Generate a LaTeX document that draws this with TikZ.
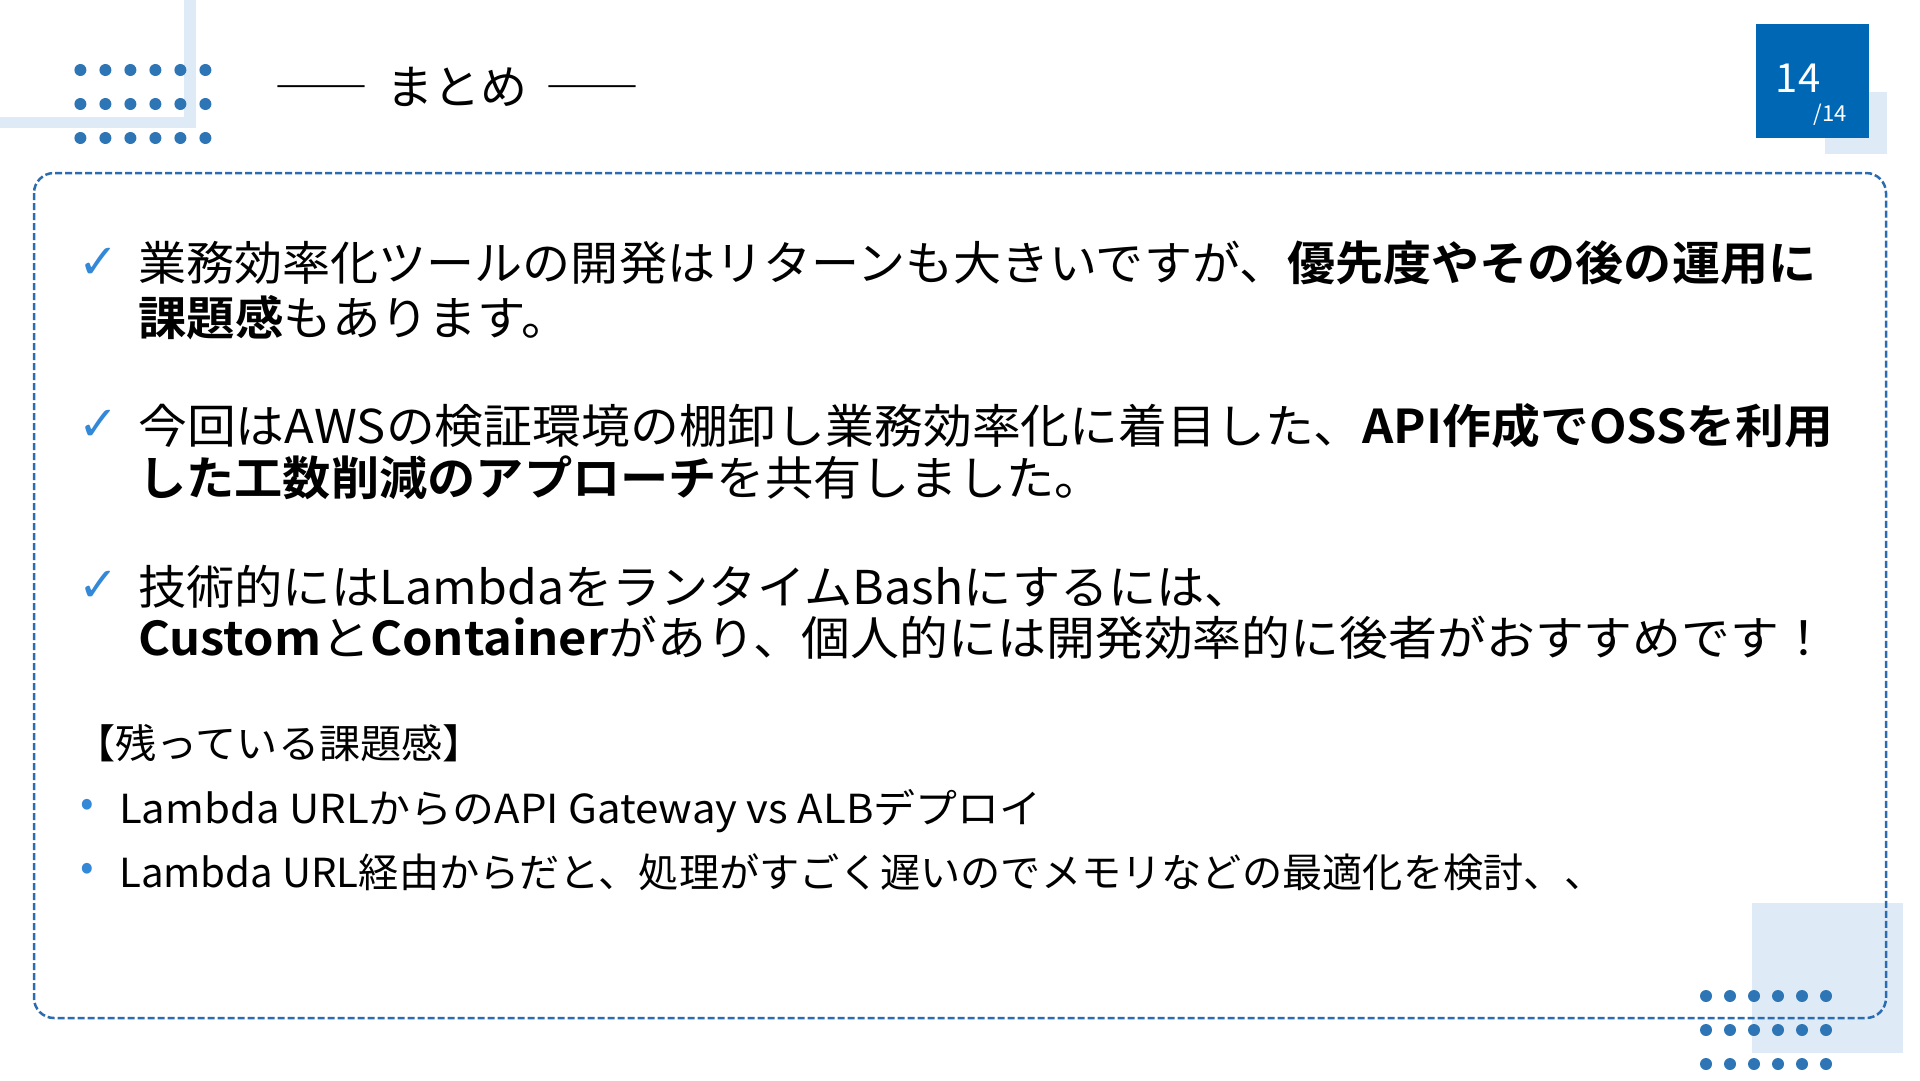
\documentclass[tikz,border=0pt]{standalone}
\usepackage{graphicx}
\usepackage{fontspec}
\setmainfont{Noto Sans CJK JP}[BoldFont={Noto Sans CJK JP Bold}]
\newfontfamily\symfont{DejaVu Sans}
\definecolor{lightbg}{HTML}{DEEBF7}
\definecolor{dotblue}{HTML}{2E75B6}
\definecolor{boxblue}{HTML}{0067B5}
\definecolor{borderblue}{HTML}{2B6CB0}
\definecolor{checkblue}{HTML}{3388D8}
\newcommand{\wideto}[2]{\resizebox{#1}{\height}{#2}}
\newcommand{\widen}[2]{\scalebox{#1}[1]{#2}}
\begin{document}
\begin{tikzpicture}[x=1pt,y=-1pt,
  maintext/.style={anchor=base west, inner sep=0pt, font=\fontsize{46.6}{50}\selectfont},
  subtext/.style={anchor=base west, inner sep=0pt, font=\fontsize{40}{44}\selectfont},
  checkmark/.style={inner sep=0pt, text=checkblue, font=\symfont\bfseries\fontsize{48}{48}\selectfont},
  bulletmark/.style={inner sep=0pt, text=checkblue, font=\fontsize{40}{40}\selectfont},
  dotstyle/.style={fill=dotblue, draw=none},
  lightfill/.style={fill=lightbg, draw=none},
]
\useasboundingbox (0,0) rectangle (1920,1080);
\fill[white] (0,0) rectangle (1920,1080);

% top-left decoration
\fill[lightfill] (184,0) rectangle (196,128);
\fill[lightfill] (0,117) rectangle (196,128);
\foreach \i in {0,...,5}
  \foreach \j in {0,1,2}
    \fill[dotstyle] (80.4+25*\i,70+34*\j) circle[radius=6];

% title
\node[anchor=base, inner sep=0pt, font=\fontsize{47}{47}\selectfont] (title) at (457,104)
  {――\hspace{18pt}まとめ\hspace{18pt}――};

% page number
\fill[lightfill] (1825,92) rectangle (1887,154);
\fill[fill=boxblue] (1756,24) rectangle (1869,138);
\node[inner sep=0pt, text=white, font=\fontsize{40}{40}\selectfont] (pnum) at (1798,78) {14};
\node[inner sep=0pt, text=white, font=\fontsize{22}{22}\selectfont] (ptot) at (1830,115) {/14};

% bottom-right decoration and frame
\fill[lightfill] (1752,903) rectangle (1903,1053);
\draw[borderblue, line width=2.5pt, dash pattern=on 7pt off 3pt, rounded corners=20pt]
  (34,173) rectangle (1886,1018);
\foreach \i in {0,...,5}
  \foreach \j in {0,1,2}
    \fill[dotstyle] (1706+24*\i,996+34*\j) circle[radius=6];

% checked items
\node[checkmark] (c1) at (99,263) {✓};
\node[maintext] (t1a) at (138,280.7) {\wideto{1678pt}{業務効率化ツールの開発はリターンも大きいですが、\textbf{優先度やその後の運用に}}};
\node[maintext] (t1b) at (138,335.7) {\widen{1.04}{\textbf{課題感}もあります。}};

\node[checkmark] (c2) at (99,425) {✓};
\node[maintext] (t2a) at (138,443.7) {\wideto{1695pt}{今回はAWSの検証環境の棚卸し業務効率化に着目した、\textbf{API作成でOSSを利用}}};
\node[maintext] (t2b) at (138,495.7) {\widen{1.035}{\textbf{した工数削減のアプローチ}を共有しました。}};

\node[checkmark] (c3) at (99,586) {✓};
\node[maintext] (t3a) at (138,604.7) {\widen{1.035}{技術的にはLambdaをランタイムBashにするには、}};
\node[maintext] (t3b) at (138,655.7) {\wideto{1690pt}{\textbf{Custom}と\textbf{Container}があり、個人的には開発効率的に後者がおすすめです！}};

% remaining issues
\node[subtext] (rhead) at (74,758) {\widen{1.03}{【残っている課題感】}};
\node[bulletmark] (b1) at (87,808) {•};
\node[subtext] (r1) at (119,823) {\wideto{922pt}{Lambda URLからのAPI Gateway vs ALBデプロイ}};
\node[bulletmark] (b2) at (87,872) {•};
\node[subtext] (r2) at (119,887) {\wideto{1485pt}{Lambda URL経由からだと、処理がすごく遅いのでメモリなどの最適化を検討、、}};
\end{tikzpicture}
\end{document}
